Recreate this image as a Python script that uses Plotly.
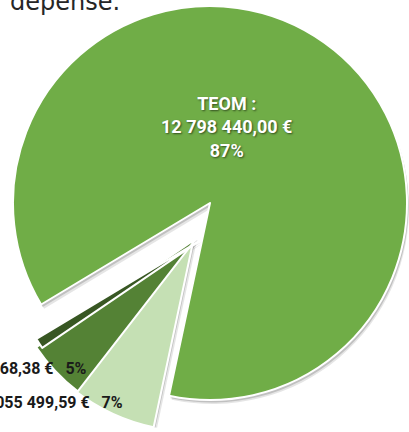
import math
import plotly.graph_objects as go

W, H = 409, 432

# Recettes (clockwise from the first slice)
labels = ["Poste A", "Poste B", "Poste C", "TEOM"]
values = [1055499.59, 735568.38, 130000.00, 12798440.00]
colors = ["#C5E0B4", "#548235", "#385723", "#70AD47"]

# Layout of the exploded pie (pixels)
explode_px = [38, 38, 38, 0]
start_angle = 192          # first slice starts here, degrees clockwise from 12 o'clock
center_x, center_y = 210, 203
base_r = 197

total = sum(values)
pcts = [round(100 * v / total) for v in values]


def fr_money(v):
    s = f"{v:,.2f}".replace(",", "\u00a0").replace(".", ",")
    return s + "\u00a0€"


def clamp01(v):
    return min(1.0, max(0.0, v))


def pie_domain(cx, cy, r):
    return dict(
        x=[clamp01((cx - r) / W), clamp01((cx + r) / W)],
        y=[clamp01(1 - (cy + r) / H), clamp01(1 - (cy - r) / H)],
    )


# centre + radius of each slice after explosion
geom = []
cum = 0.0
for i, v in enumerate(values):
    mid = math.radians(start_angle + 360 * (cum + v / 2) / total)
    cum += v / total
    cx = center_x + explode_px[i] * math.sin(mid)
    cy = center_y - explode_px[i] * math.cos(mid)
    r = min(base_r, cx, W - cx, cy, H - cy)
    geom.append((cx, cy, r))

fig = go.Figure()


def add_pie(cx, cy, r, slice_colors, line_widths):
    fig.add_trace(go.Pie(
        labels=labels, values=values, sort=False,
        direction="clockwise", rotation=start_angle,
        domain=pie_domain(cx, cy, r),
        marker=dict(colors=slice_colors,
                    line=dict(color="white", width=line_widths)),
        textinfo="none", hoverinfo="skip", showlegend=False,
    ))


clear = "rgba(0,0,0,0)"

# soft drop shadows under every slice
for dx, dy, alpha in [(3, 4.5, 0.10), (1.5, 2.5, 0.16)]:
    for i in [3, 0, 1, 2]:
        cx, cy, r = geom[i]
        cols = [clear] * len(values)
        cols[i] = f"rgba(0,0,0,{alpha})"
        add_pie(cx + dx, cy + dy, r, cols, [0] * len(values))

# the slices themselves
for i in [3, 0, 1, 2]:
    cx, cy, r = geom[i]
    cols = [clear] * len(values)
    cols[i] = colors[i]
    widths = [0] * len(values)
    widths[i] = 2
    add_pie(cx, cy, r, cols, widths)

label_font = dict(family="Roboto, Arial, sans-serif", size=16, color="#1a1a1a")
gap = "\u00a0\u00a0\u00a0"

fig.add_annotation(
    text="dépense.", x=8 / W, y=1 - 2 / H, xref="paper", yref="paper",
    xanchor="left", yanchor="middle", showarrow=False,
    font=dict(family="DejaVu Sans, Verdana, sans-serif", size=24, color="#262626"),
)

fig.add_annotation(
    text=(f"<b>{labels[3]} :</b><br><b>{fr_money(values[3])}</b><br>"
          f"<b>{pcts[3]}%</b>"),
    x=226 / W, y=1 - 127 / H, xref="paper", yref="paper",
    xanchor="center", yanchor="middle", showarrow=False, align="center",
    font=dict(family="Roboto, Arial, sans-serif", size=18, color="white",
              shadow="1px 1px 2px rgba(0,0,0,0.55)"),
)

fig.add_annotation(
    text=f"<b>{fr_money(values[1])}{gap}{pcts[1]}%</b>",
    x=89 / W, y=1 - 368 / H, xref="paper", yref="paper",
    xanchor="right", yanchor="middle", showarrow=False, font=label_font,
)

fig.add_annotation(
    text=f"<b>{fr_money(values[0])}{gap}{pcts[0]}%</b>",
    x=125 / W, y=1 - 402 / H, xref="paper", yref="paper",
    xanchor="right", yanchor="middle", showarrow=False, font=label_font,
)

fig.update_layout(
    width=W, height=H,
    margin=dict(l=0, r=0, t=0, b=0),
    paper_bgcolor="white", plot_bgcolor="white",
)

fig.write_html("out.html")
